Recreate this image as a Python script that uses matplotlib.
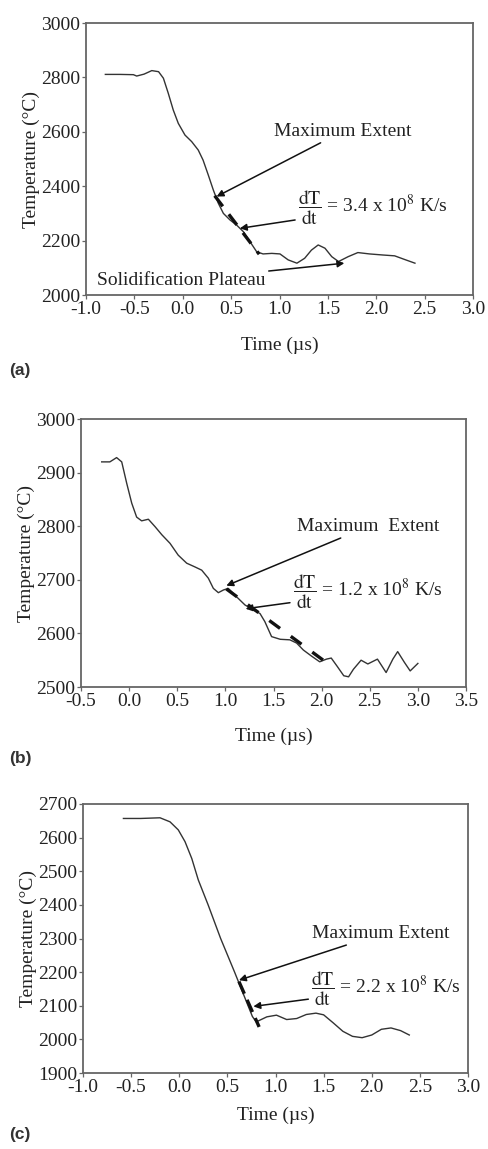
import numpy as np
import matplotlib
matplotlib.use("Agg")
import matplotlib.pyplot as plt

plt.rcParams['font.family'] = ['Liberation Serif', 'DejaVu Serif']
plt.rcParams['mathtext.fontset'] = 'stix'

# panel (a) data
t_a = [-0.80, -0.65, -0.51, -0.476, -0.40, -0.32, -0.25, -0.20, -0.15, -0.098, -0.046, 0.023,
       0.092, 0.16, 0.21, 0.264, 0.316, 0.368, 0.42, 0.488, 0.557, 0.626, 0.695, 0.764, 0.83,
       0.92, 1.005, 1.09, 1.18, 1.26, 1.33, 1.40, 1.47, 1.54, 1.61, 1.71, 1.81, 1.93, 2.07,
       2.19, 2.29, 2.40]
T_a = [2811, 2811, 2810, 2805, 2812, 2825, 2821, 2797, 2742, 2680, 2631, 2588,
       2564, 2533, 2496, 2441, 2386, 2337, 2300, 2276, 2257, 2233, 2196, 2159, 2151,
       2153, 2151, 2129, 2117, 2135, 2165, 2184, 2172, 2141, 2123, 2141, 2156, 2151, 2147,
       2144, 2131, 2117]
fit_a_t = [0.33, 0.79]
fit_a_T = [2365, 2150]

# panel (b) data
t_b = [-0.285, -0.20, -0.13, -0.077, -0.025, 0.027, 0.078, 0.13, 0.20, 0.27, 0.34, 0.425,
       0.51, 0.598, 0.684, 0.754, 0.823, 0.875, 0.927, 0.98, 1.03, 1.118, 1.204, 1.29, 1.36,
       1.41, 1.48, 1.57, 1.67, 1.74, 1.81, 1.90, 1.98, 2.05, 2.10, 2.16, 2.23, 2.28, 2.33,
       2.41, 2.48, 2.58, 2.67, 2.74, 2.79, 2.86, 2.92, 3.00]
T_b = [2920, 2920, 2928, 2920, 2880, 2843, 2817, 2810, 2813, 2799, 2784, 2768,
       2746, 2731, 2724, 2718, 2703, 2684, 2676, 2681, 2684, 2668, 2653, 2644, 2637,
       2622, 2594, 2589, 2588, 2582, 2569, 2557, 2547, 2552, 2554, 2539, 2521, 2519, 2533,
       2550, 2543, 2552, 2527, 2552, 2566, 2546, 2530, 2544]
fit_b_t = [1.01, 2.10]
fit_b_T = [2683, 2539]

# panel (c) data
t_c = [-0.58, -0.40, -0.20, -0.096, -0.01, 0.06, 0.13, 0.198, 0.30, 0.43, 0.575, 0.715,
       0.76, 0.80, 0.91, 1.01, 1.116, 1.22, 1.32, 1.42, 1.5, 1.6, 1.7, 1.8, 1.9,
       2.0, 2.1, 2.2, 2.3, 2.39]
T_c = [2657, 2657, 2659, 2647, 2623, 2588, 2538, 2474, 2400, 2300, 2200, 2100,
       2068, 2052, 2067, 2072, 2059, 2062, 2074, 2078, 2073, 2049, 2024, 2009, 2005,
       2013, 2030, 2034, 2026, 2013]
fit_c_t = [0.62, 0.83]
fit_c_T = [2172, 2037]

W, H = 488, 1149
fig = plt.figure(figsize=(W / 100, H / 100), dpi=100)

line_col = '#333333'
txt_col = '#222222'
fs = 14


def make_ax(left, right, top, bottom, xpad):
    ax = fig.add_axes([left / W, 1 - bottom / H, (right - left) / W, (bottom - top) / H])
    for s in ax.spines.values():
        s.set_color('#666666')
        s.set_linewidth(1.3)
    ax.tick_params(direction='out', length=3, width=0.9, colors='#666666',
                   labelcolor=txt_col, labelsize=fs, pad=1)
    ax.set_ylabel('Temperature (°C)', fontsize=fs, color=txt_col, labelpad=1)
    ax.set_xlabel('Time (µs)', fontsize=fs, color=txt_col, labelpad=xpad)
    return ax


arrow = dict(arrowstyle='-|>', color='#111111', lw=1.1, mutation_scale=10, shrinkA=0, shrinkB=0)
frac = r'$\dfrac{\mathrm{dT}}{\mathrm{dt}}$'
tag = dict(family='Liberation Sans', weight='bold', fontsize=12.5, va='center', color='#333333')

# (a)
ax = make_ax(86, 473, 23, 295, 14)
ax.plot(t_a, T_a, color=line_col, lw=1.0)
ax.plot(fit_a_t, fit_a_T, color='#111111', lw=2.4, ls=(0, (4, 3)))
ax.set_xlim(-1.0, 3.0)
ax.set_ylim(2000, 3000)
ax.set_xticks(np.arange(-1.0, 3.01, 0.5))
ax.set_xticklabels([f'{v:.1f}' for v in np.arange(-1.0, 3.01, 0.5)])
ax.set_yticks(np.arange(2000, 3001, 200))
ax.annotate('Maximum Extent', xy=(0.35, 2362), xytext=(0.94, 2601), fontsize=fs,
            va='center', ha='left', color=txt_col, arrowprops=arrow)
ax.annotate(frac + ' = 3.4 x 10$^8$ K/s', xy=(0.59, 2245), xytext=(1.19, 2319), fontsize=fs,
            va='center', ha='left', color=txt_col, arrowprops=arrow)
ax.annotate('Solidification Plateau', xy=(1.67, 2117), xytext=(0.86, 2055), fontsize=fs,
            va='center', ha='right', color=txt_col, arrowprops=arrow)
fig.text(9 / W, 1 - 370 / H, '(a)', **tag)

# (b)
ax = make_ax(81, 466, 419, 687, 13)
ax.plot(t_b, T_b, color=line_col, lw=1.0)
ax.plot(fit_b_t, fit_b_T, color='#111111', lw=2.4, ls=(0, (4, 4)))
ax.set_xlim(-0.5, 3.5)
ax.set_ylim(2500, 3000)
ax.set_xticks(np.arange(-0.5, 3.51, 0.5))
ax.set_xticklabels([f'{v:.1f}' for v in np.arange(-0.5, 3.51, 0.5)])
ax.set_yticks(np.arange(2500, 3001, 100))
ax.annotate('Maximum  Extent', xy=(1.01, 2689), xytext=(1.74, 2799), fontsize=fs,
            va='center', ha='left', color=txt_col, arrowprops=arrow)
ax.annotate(frac + ' = 1.2 x 10$^8$ K/s', xy=(1.21, 2646), xytext=(1.70, 2677), fontsize=fs,
            va='center', ha='left', color=txt_col, arrowprops=arrow)
fig.text(9 / W, 1 - 758 / H, '(b)', **tag)

# (c)
ax = make_ax(83, 468, 804, 1073, 8)
ax.plot(t_c, T_c, color=line_col, lw=1.0)
ax.plot(fit_c_t, fit_c_T, color='#111111', lw=2.4, ls=(0, (4, 2)))
ax.set_xlim(-1.0, 3.0)
ax.set_ylim(1900, 2700)
ax.set_xticks(np.arange(-1.0, 3.01, 0.5))
ax.set_xticklabels([f'{v:.1f}' for v in np.arange(-1.0, 3.01, 0.5)])
ax.set_yticks(np.arange(1900, 2701, 100))
ax.annotate('Maximum Extent', xy=(0.62, 2176), xytext=(1.38, 2314), fontsize=fs,
            va='center', ha='left', color=txt_col, arrowprops=arrow)
ax.annotate(frac + ' = 2.2 x 10$^8$ K/s', xy=(0.77, 2098), xytext=(1.37, 2150), fontsize=fs,
            va='center', ha='left', color=txt_col, arrowprops=arrow, annotation_clip=False)
fig.text(9 / W, 1 - 1135 / H, '(c)', **tag)

fig.savefig('out.png', dpi=100)
